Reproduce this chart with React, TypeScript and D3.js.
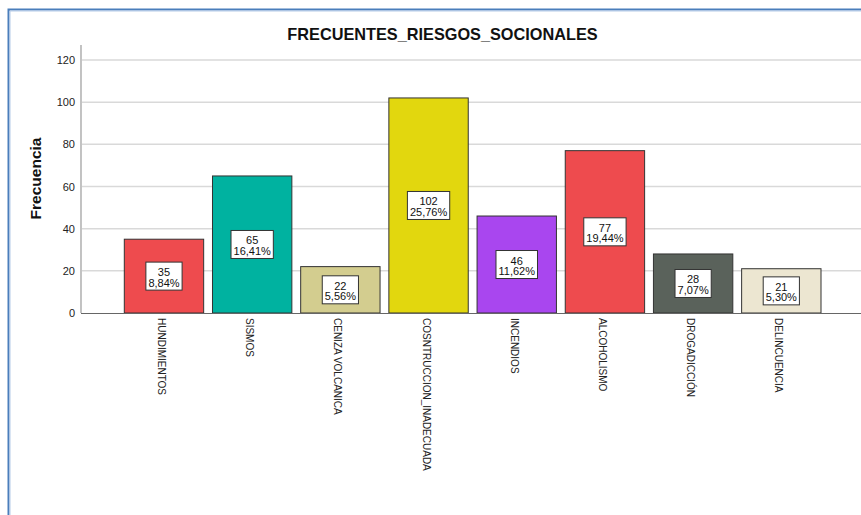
import React, { useEffect, useRef } from "react";
import * as d3 from "d3";

const categories = [
  "HUNDIMIENTOS",
  "SISMOS",
  "CENIZA VOLCANICA",
  "COSNTRUCCION_INADECUADA",
  "INCENDIOS",
  "ALCOHOLISMO",
  "DROGADICCIÓN",
  "DELINCUENCIA",
];
const counts = [35, 65, 22, 102, 46, 77, 28, 21];
const percents = ["8,84%", "16,41%", "5,56%", "25,76%", "11,62%", "19,44%", "7,07%", "5,30%"];
const barColors = ["#ee4b4e", "#00b2a0", "#d3cd8f", "#e2d70e", "#a946ef", "#ee4b4e", "#5a625b", "#ece6d1"];
const yTicks = [0, 20, 40, 60, 80, 100, 120];
const title = "FRECUENTES_RIESGOS_SOCIONALES";
const yTitle = "Frecuencia";

const W = 861;
const H = 515;
const FONT = "'Liberation Sans', Arial, sans-serif";

export default function App() {
  const ref = useRef<SVGSVGElement | null>(null);

  useEffect(() => {
    const svg = d3.select(ref.current);
    svg.selectAll("*").remove();

    const x = d3
      .scaleBand<string>()
      .domain(categories)
      .range([124.3, 821])
      .paddingInner(0.1)
      .paddingOuter(0);
    const y = d3.scaleLinear().domain([0, 120]).range([313, 60]);

    svg.append("rect").attr("width", W).attr("height", H).attr("fill", "#fff");

    // frame
    svg
      .append("path")
      .attr("d", `M8.5,${H} V9.5 H${W}`)
      .attr("fill", "none")
      .attr("stroke", "#4a7ebb")
      .attr("stroke-width", 2);
    svg
      .append("path")
      .attr("d", `M10,${H} V11 H${W}`)
      .attr("fill", "none")
      .attr("stroke", "#b5cbe8")
      .attr("stroke-width", 1);

    // title
    svg
      .append("text")
      .attr("x", 442.5)
      .attr("y", 40)
      .attr("text-anchor", "middle")
      .attr("font-family", FONT)
      .attr("font-weight", "bold")
      .attr("font-size", 16.3)
      .attr("fill", "#111")
      .text(title);

    // gridlines
    svg
      .append("g")
      .selectAll("line")
      .data(yTicks.filter((t) => t > 0))
      .join("line")
      .attr("x1", 82)
      .attr("x2", W)
      .attr("y1", (d) => y(d))
      .attr("y2", (d) => y(d))
      .attr("stroke", "#d9d9d9")
      .attr("stroke-width", 1.5);

    // y axis line
    svg
      .append("line")
      .attr("x1", 81)
      .attr("x2", 81)
      .attr("y1", 45)
      .attr("y2", 313)
      .attr("stroke", "#9a9a9a")
      .attr("stroke-width", 1.2);

    // y tick labels
    svg
      .append("g")
      .selectAll("text")
      .data(yTicks)
      .join("text")
      .attr("x", 75)
      .attr("y", (d) => y(d) + 4)
      .attr("text-anchor", "end")
      .attr("font-family", FONT)
      .attr("font-size", 11)
      .attr("fill", "#222")
      .text((d) => String(d));

    // y title
    svg
      .append("text")
      .attr("transform", `translate(40.5,178.5) rotate(-90)`)
      .attr("text-anchor", "middle")
      .attr("font-family", FONT)
      .attr("font-weight", "bold")
      .attr("font-size", 15.5)
      .attr("fill", "#111")
      .text(yTitle);

    // bars
    svg
      .append("g")
      .selectAll("rect")
      .data(categories)
      .join("rect")
      .attr("x", (d) => x(d)!)
      .attr("y", (_d, i) => y(counts[i]))
      .attr("width", x.bandwidth())
      .attr("height", (_d, i) => y(0) - y(counts[i]))
      .attr("fill", (_d, i) => barColors[i])
      .attr("stroke", "#333")
      .attr("stroke-width", 1);

    // x baseline
    svg
      .append("line")
      .attr("x1", 81)
      .attr("x2", W)
      .attr("y1", 313.5)
      .attr("y2", 313.5)
      .attr("stroke", "#666")
      .attr("stroke-width", 1.2);

    // bar labels
    const lg = svg.append("g");
    categories.forEach((c, i) => {
      const cx = x(c)! + x.bandwidth() / 2;
      const cy = (y(counts[i]) + y(0)) / 2;
      const g = lg.append("g");
      const rect = g.append("rect");
      const t1 = g
        .append("text")
        .attr("x", cx)
        .attr("y", cy)
        .attr("text-anchor", "middle")
        .attr("font-family", FONT)
        .attr("font-size", 11)
        .attr("fill", "#111")
        .text(String(counts[i]));
      const t2 = g
        .append("text")
        .attr("x", cx)
        .attr("y", cy + 10.5)
        .attr("text-anchor", "middle")
        .attr("font-family", FONT)
        .attr("font-size", 11)
        .attr("fill", "#111")
        .text(percents[i]);
      const w1 = (t1.node() as SVGTextElement).getComputedTextLength();
      const w2 = (t2.node() as SVGTextElement).getComputedTextLength();
      const bw = Math.max(w1, w2) + 5;
      rect
        .attr("x", cx - bw / 2)
        .attr("y", cy - 14)
        .attr("width", bw)
        .attr("height", 28)
        .attr("fill", "#fff")
        .attr("stroke", "#333")
        .attr("stroke-width", 1);
    });

    // x labels
    svg
      .append("g")
      .selectAll("text")
      .data(categories)
      .join("text")
      .attr("transform", (d) => `translate(${x(d)! + x.bandwidth() / 2 - 6},318) rotate(90)`)
      .attr("text-anchor", "start")
      .attr("font-family", FONT)
      .attr("font-size", 10)
      .attr("fill", "#222")
      .text((d) => d);
  }, []);

  return (
    <svg
      ref={ref}
      width={W}
      height={H}
      style={{ position: "absolute", left: 0, top: 0, display: "block" }}
    />
  );
}
